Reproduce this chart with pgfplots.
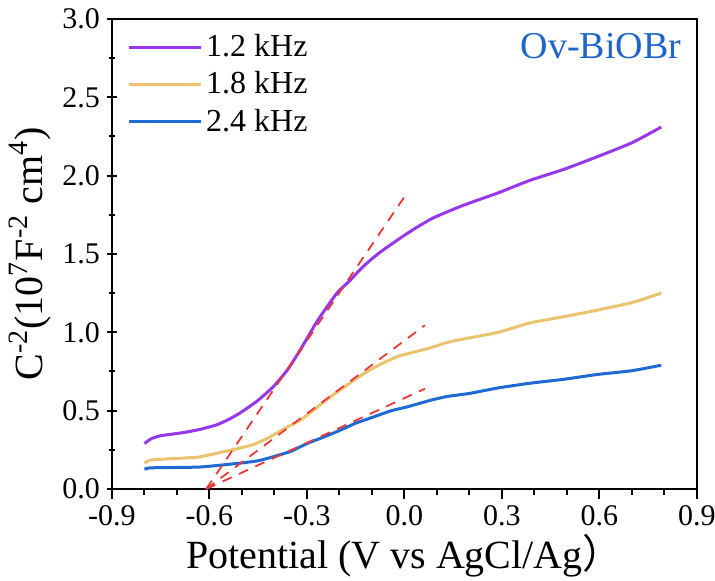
\documentclass[border=0pt]{standalone}
\usepackage{pgfplots}
\pgfplotsset{compat=1.18}
\usepackage{fontspec}
\setmainfont{Liberation Serif}
\newfontfamily\cjk{Noto Sans CJK SC}
\definecolor{cpurple}{RGB}{150,55,235}
\definecolor{cyellow}{RGB}{235,195,110}
\definecolor{cblue}{RGB}{30,105,210}
\definecolor{cred}{RGB}{235,55,55}
\definecolor{ctitle}{RGB}{30,100,205}
\begin{document}
\begin{tikzpicture}
\begin{axis}[
  scale only axis, width=292.5pt, height=235pt,
  xmin=-0.9, xmax=0.9, ymin=0, ymax=3,
  xtick={-0.9,-0.6,...,0.91}, ytick={0,0.5,...,3.01},
  minor x tick num=2, minor y tick num=1,
  /pgf/number format/.cd, fixed, fixed zerofill, precision=1, assume math mode=true,
  /pgfplots/.cd,
  axis line style={line width=1.2pt}, every tick/.style={line width=1pt, black},
  major tick length=5pt, minor tick length=3pt,
  xtick align=outside, ytick align=center,
  xtick pos=bottom, ytick pos=left,
  tick label style={font=\fontsize{15}{18}\selectfont},
  xlabel={Potential (V vs AgCl/Ag\cjk{）}},
  ylabel={C\textsuperscript{-2}(10\textsuperscript{7}F\textsuperscript{-2} cm\textsuperscript{4})},
  label style={font=\fontsize{20}{23}\selectfont},
  xlabel style={yshift=3pt}, ylabel style={yshift=-1pt},
  legend style={at={(0.015,0.985)},anchor=north west,draw=none,fill=none,
    font=\fontsize{16}{19}\selectfont,row sep=2pt},
  legend cell align=left,
  legend image code/.code={\draw[#1] (0pt,0pt) -- (36pt,0pt);},
  clip=false,
]
\addplot[cpurple, line width=1.5pt, smooth, tension=0.3] coordinates {
(-0.80,0.29) (-0.78,0.32) (-0.75,0.34) (-0.68,0.36) (-0.63,0.38) (-0.577,0.41)
(-0.54,0.445) (-0.506,0.485) (-0.454,0.56) (-0.405,0.65) (-0.36,0.76) (-0.32,0.89)
(-0.269,1.07) (-0.208,1.25) (-0.168,1.33) (-0.137,1.40) (-0.10,1.47) (-0.066,1.525)
(-0.014,1.60) (0.03,1.66) (0.088,1.73) (0.18,1.81) (0.288,1.89) (0.386,1.97)
(0.49,2.04) (0.592,2.12) (0.70,2.21) (0.79,2.31)};
\addlegendentry{1.2 kHz}
\addplot[cyellow, line width=1.5pt, smooth, tension=0.3] coordinates {
(-0.80,0.165) (-0.78,0.185) (-0.70,0.195) (-0.63,0.205) (-0.53,0.25) (-0.47,0.28)
(-0.42,0.325) (-0.374,0.38) (-0.32,0.44) (-0.27,0.52) (-0.22,0.60) (-0.165,0.68)
(-0.115,0.75) (-0.06,0.81) (-0.014,0.85) (0.078,0.90) (0.14,0.94) (0.288,1.00)
(0.386,1.06) (0.49,1.10) (0.59,1.14) (0.70,1.19) (0.79,1.25)};
\addlegendentry{1.8 kHz}
\addplot[cblue, line width=1.5pt, smooth, tension=0.3] coordinates {
(-0.80,0.125) (-0.78,0.135) (-0.63,0.14) (-0.506,0.165) (-0.45,0.18) (-0.405,0.205)
(-0.35,0.24) (-0.30,0.29) (-0.25,0.33) (-0.198,0.375) (-0.15,0.42) (-0.095,0.46)
(-0.04,0.50) (0.01,0.525) (0.078,0.565) (0.13,0.59) (0.20,0.61) (0.288,0.645)
(0.386,0.675) (0.49,0.70) (0.59,0.73) (0.70,0.755) (0.79,0.79)};
\addlegendentry{2.4 kHz}
\addplot[cred, line width=0.9pt, dash pattern=on 5pt off 4pt, forget plot] coordinates {(-0.61,0) (0.008,1.89)};
\addplot[cred, line width=0.9pt, dash pattern=on 5pt off 4pt, forget plot] coordinates {(-0.61,0) (0.063,1.045)};
\addplot[cred, line width=0.9pt, dash pattern=on 5pt off 4pt, forget plot] coordinates {(-0.61,0) (0.063,0.64)};
\node[anchor=north east, text=ctitle, font=\fontsize{19}{22}\selectfont] at (rel axis cs:0.985,0.985) {Ov-BiOBr};
\end{axis}
\pgfresetboundingbox
\path[use as bounding box] (current axis.south west) ++(-56pt,-46pt) rectangle ([shift={(9pt,9.5pt)}]current axis.north east);
\end{tikzpicture}
\end{document}
